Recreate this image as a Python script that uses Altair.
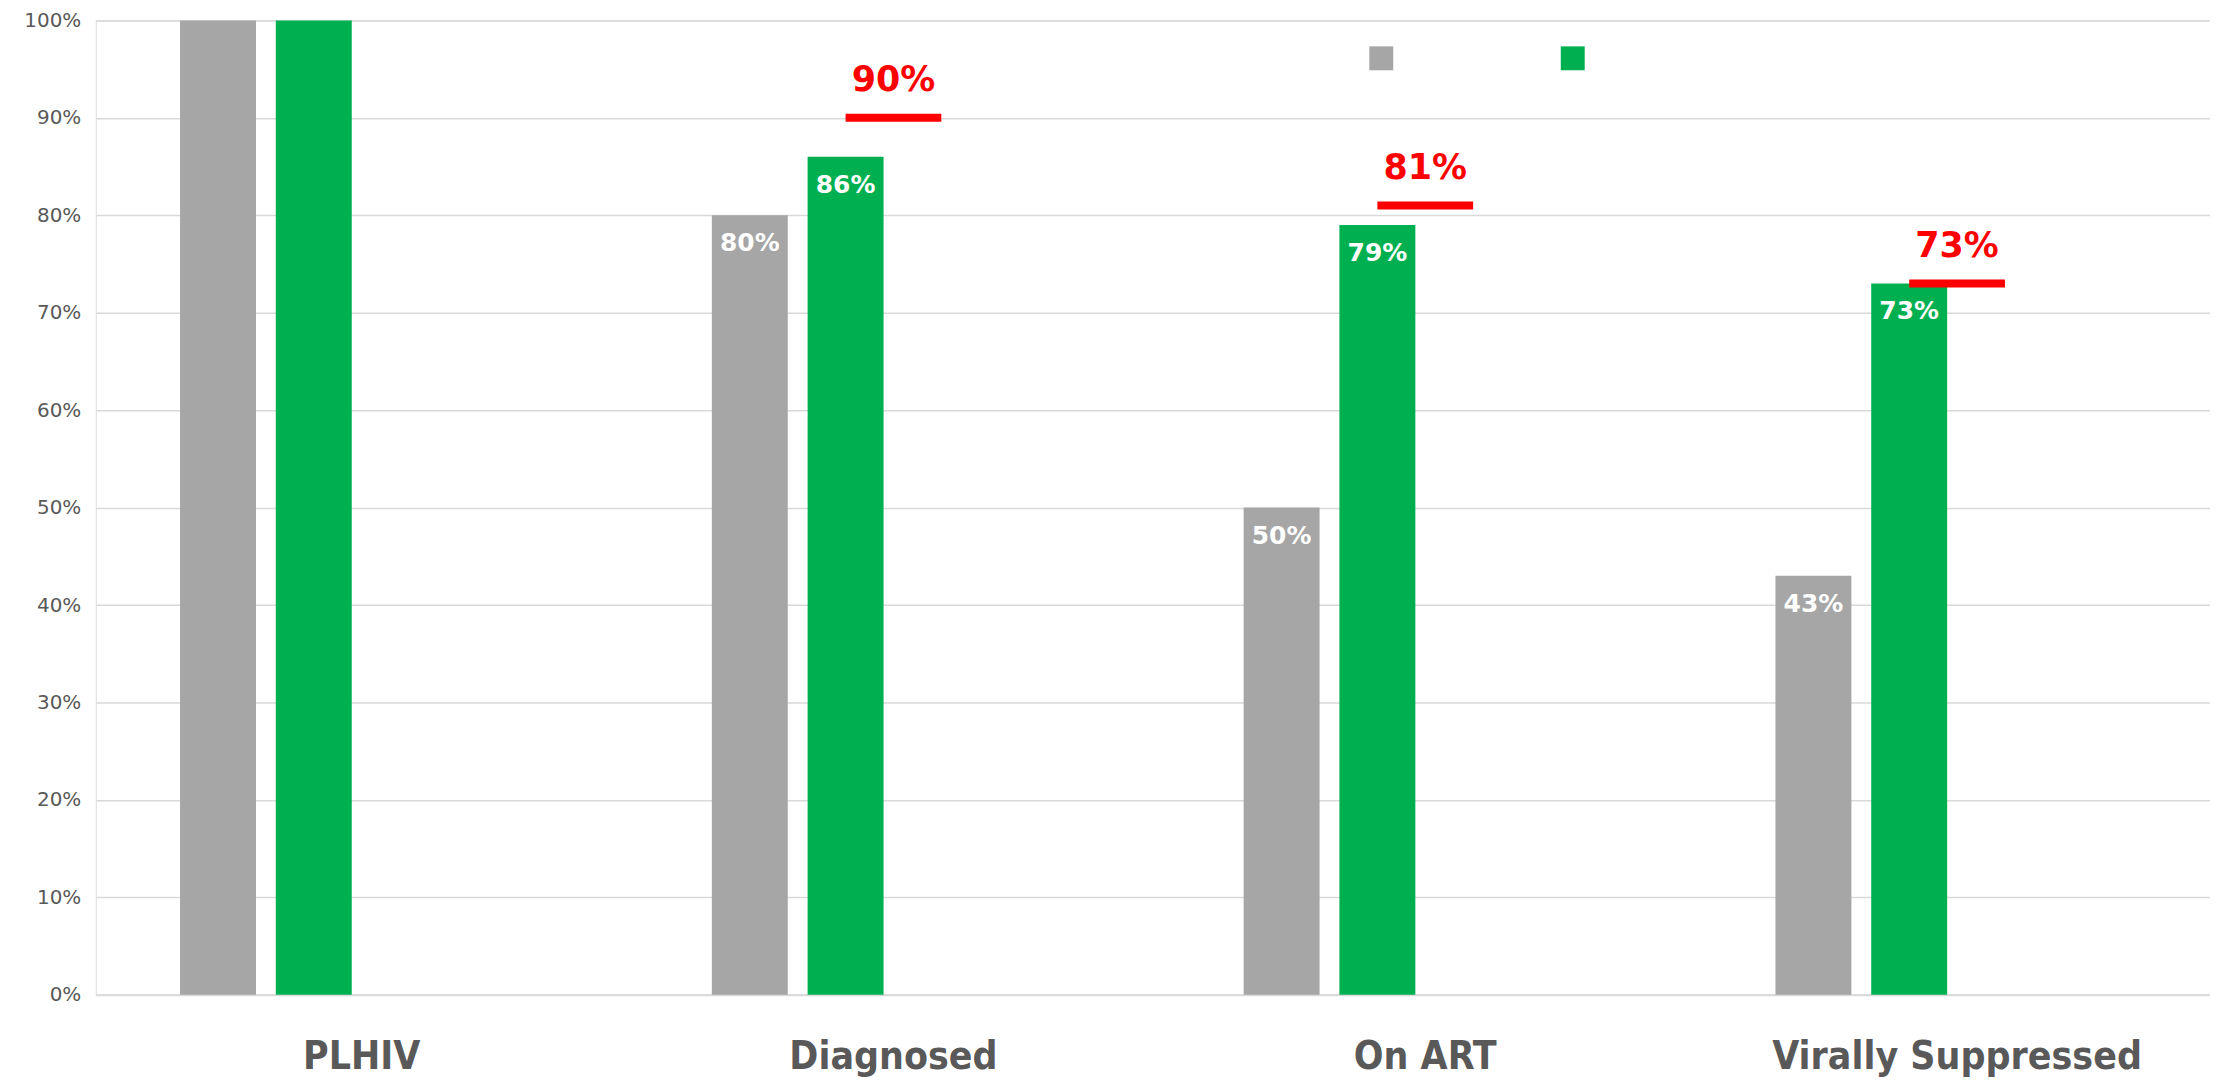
import altair as alt
import pandas as pd

categories = ["PLHIV", "Diagnosed", "On ART", "Virally Suppressed"]
series_names = ["Series 1", "Series 2", "Series 3", "Series 4"]
gray_values = [100, 80, 50, 43]
green_values = [100, 86, 79, 73]
gray_labels = ["", "80%", "50%", "43%"]
green_labels = ["", "86%", "79%", "73%"]
target_cats = ["Diagnosed", "On ART", "Virally Suppressed"]
target_values = [90, 81, 73]
target_labels = ["90%", "81%", "73%"]

rows = []
for c, v, l in zip(categories, gray_values, gray_labels):
    rows.append({"cat": c, "series": series_names[0], "value": v, "label": l})
for c, v, l in zip(categories, green_values, green_labels):
    rows.append({"cat": c, "series": series_names[1], "value": v, "label": l})
bars_df = pd.DataFrame(rows)
targets_df = pd.DataFrame({"cat": target_cats, "value": target_values, "label": target_labels})

GRAY = "#A6A6A6"
GREEN = "#00B050"
RED = "#FF0000"
TXT = "#595959"

x_scale = alt.Scale(domain=categories, paddingInner=0, paddingOuter=0, range=[0, 2133])
x_enc = alt.X("cat:N", sort=categories, scale=x_scale,
              axis=alt.Axis(title=None, labelAngle=0, ticks=False, domain=True, domainColor="#D9D9D9",
                            domainWidth=2, labelFont="DejaVu Sans Condensed, Liberation Sans Narrow, Arial Narrow, sans-serif",
                            labelFontWeight="bold", labelFontSize=39, labelColor=TXT, labelPadding=43,
                            labelBaseline="top", labelLimit=0))
y_scale = alt.Scale(domain=[0, 100], nice=False, zero=True)
y_enc = alt.Y("value:Q", scale=y_scale,
              axis=alt.Axis(title=None, values=list(range(0, 101, 10)), labelExpr="datum.value + '%'",
                            ticks=False, domain=False, grid=True, gridColor="#D9D9D9", gridWidth=1.5,
                            labelFont="DejaVu Sans", labelFontSize=20, labelColor=TXT, labelPadding=15))
xo_enc = alt.XOffset("series:N", scale=alt.Scale(domain=series_names, paddingInner=0.207, paddingOuter=0.88))

bars = alt.Chart(bars_df).mark_bar().encode(
    x=x_enc,
    xOffset=xo_enc,
    y=y_enc,
    color=alt.Color("series:N", scale=alt.Scale(domain=series_names[:2], range=[GRAY, GREEN]),
                    legend=alt.Legend(title=None, orient="none", legendX=1277, legendY=26, direction="horizontal",
                                      symbolType="square", symbolSize=576, symbolStrokeWidth=0,
                                      labelExpr="''", labelOffset=0, columnPadding=168, padding=0)),
)

bar_text = alt.Chart(bars_df).mark_text(color="white", font="DejaVu Sans", fontWeight="bold", fontSize=25,
                                        baseline="alphabetic", dy=36).encode(
    x=alt.X("cat:N", sort=categories, scale=x_scale),
    xOffset=xo_enc,
    y=alt.Y("value:Q", scale=y_scale),
    text="label:N",
)

target_ticks = alt.Chart(targets_df).mark_tick(color=RED, thickness=8, size=96, opacity=1).encode(
    x=alt.X("cat:N", sort=categories, scale=x_scale),
    y=alt.Y("value:Q", scale=y_scale),
)

target_text = alt.Chart(targets_df).mark_text(color=RED, font="DejaVu Sans", fontWeight="bold", fontSize=35,
                                              baseline="alphabetic", dy=-27).encode(
    x=alt.X("cat:N", sort=categories, scale=x_scale),
    y=alt.Y("value:Q", scale=y_scale),
    text="label:N",
)

chart = alt.layer(bars, bar_text, target_ticks, target_text).properties(
    width=2120, height=977,
    autosize=alt.AutoSizeParams(type="none"),
    padding={"left": 88, "top": 11, "right": 0, "bottom": 85},
).configure_view(stroke=None).configure(background="white")

chart.save("out.html", embed_options={"renderer": "svg", "actions": False})
